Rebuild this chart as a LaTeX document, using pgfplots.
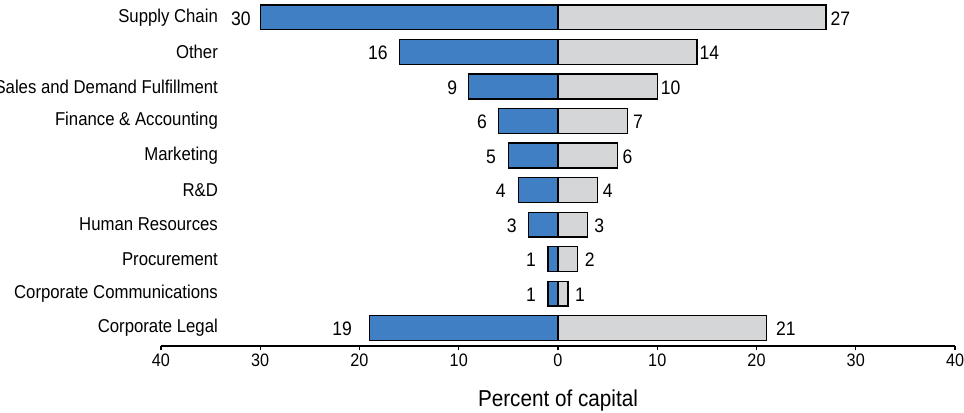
\documentclass[border=0pt]{standalone}
\usepackage{fontspec}
\setmainfont{Liberation Sans}[FakeStretch=0.9]
\usepackage{pgfplots}
\usepackage{pgfplotstable}
\pgfplotsset{compat=1.18}
\definecolor{barblue}{RGB}{65,127,196}
\definecolor{bargray}{RGB}{213,214,216}

% y = row (0 = top), v = bar end, lab = printed value, dx = label gap
\pgfplotstableread{
y v lab dx
0 -30 30 -9
1 -16 16 -11
2 -9 9 -11
3 -6 6 -11
4 -5 5 -12
5 -4 4 -12
6 -3 3 -11
7 -1 1 -11.5
8 -1 1 -11.5
9 -19 19 -17
}\leftdata
\pgfplotstableread{
y v lab dx
0 27 27 4
1 14 14 2
2 10 10 3
3 7 7 5
4 6 6 4.5
5 4 4 4.5
6 3 3 6
7 2 2 6.5
8 1 1 6.5
9 21 21 9
}\rightdata

\begin{document}
\begin{tikzpicture}
\begin{axis}[
    scale only axis,
    width=794pt, height=346pt,
    xmin=-40, xmax=40,
    ymin=-0.506, ymax=9.52,
    y dir=reverse,
    axis x line*=bottom,
    axis y line=none,
    x axis line style={line width=1.3pt},
    /pgf/number format/assume math mode=true,
    xtick={-40,-30,-20,-10,0,10,20,30,40},
    xticklabels={40,30,20,10,0,10,20,30,40},
    xtick align=outside,
    major tick length=4pt,
    x tick style={line width=1.2pt, black},
    x tick label style={font=\fontsize{18}{19}\selectfont},
    xlabel={Percent of capital},
    xlabel style={font=\fontsize{23}{24}\selectfont, at={(axis description cs:0.5,0)}, anchor=base, yshift=-60.7pt},
    xbar, bar width=0.72, bar shift=0pt,
    nodes near coords,
    clip=false,
]
\addplot[fill=barblue, draw=black, line width=1.2pt,
    point meta=explicit,
    visualization depends on={\thisrow{dx} \as \dx},
    nodes near coords align={anchor=east},
    every node near coord/.append style={font=\fontsize{19.5}{20}\selectfont, inner sep=0pt, anchor=east, xshift=\dx pt, yshift=-1pt}]
    table[x=v, y=y, meta=lab] {\leftdata};
\addplot[fill=bargray, draw=black, line width=1.2pt,
    point meta=explicit,
    visualization depends on={\thisrow{dx} \as \dx},
    nodes near coords align={anchor=west},
    every node near coord/.append style={font=\fontsize{19.5}{20}\selectfont, inner sep=0pt, anchor=west, xshift=\dx pt, yshift=-1pt}]
    table[x=v, y=y, meta=lab] {\rightdata};
\coordinate (bl) at (axis description cs:0,0);
\coordinate (tr) at (axis description cs:1,1);
\pgfplotsforeachungrouped \name/\row in {
    Supply Chain/0, Other/1, Sales and Demand Fulfillment/2,
    Finance \& Accounting/3, Marketing/4, R\&D/5, Human Resources/6,
    Procurement/7, Corporate Communications/8, Corporate Legal/9}{
    \edef\temp{\noexpand\node[anchor=east, inner sep=0pt, font=\noexpand\fontsize{18.6}{19}\noexpand\selectfont]
        at (axis cs:-34.25,\row) {\unexpanded\expandafter{\name}};}
    \temp
}
\end{axis}
\pgfresetboundingbox
\path[use as bounding box] ([shift={(-161pt,-66pt)}]bl) rectangle ([shift={(9pt,0pt)}]tr);
\end{tikzpicture}
\end{document}
